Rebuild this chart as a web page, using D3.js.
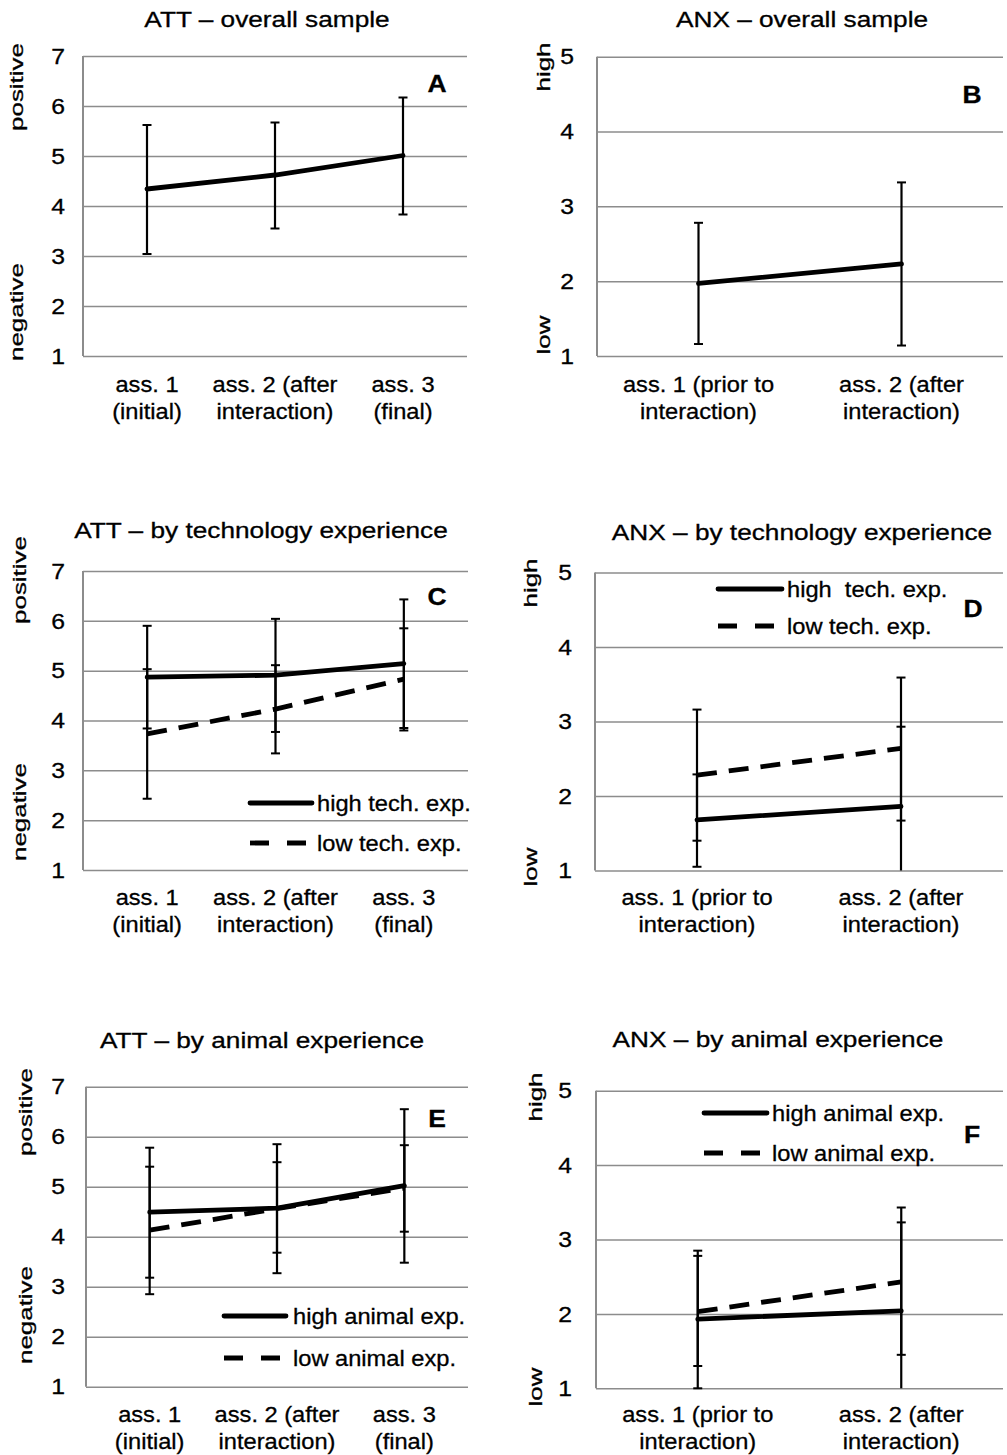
<!DOCTYPE html>
<html lang="en">
<head>
<meta charset="UTF-8">
<title>ATT / ANX by assessment</title>
<style>
  body { margin: 0; background: #fff; }
  svg { display: block; font-family: 'Liberation Sans', Arial, sans-serif; fill: #000; }
  text { stroke: #000; stroke-width: 0.3px; }
  .grid line { stroke: #8c8c8c; stroke-width: 1.5px; }
  .grid .domain { display: none; }
</style>
</head>
<body>
<svg id="chart" width="1007" height="1455"></svg>
<script src="https://d3js.org/d3.v7.min.js"></script>
<script>
// categories and ticks
const attCats = [["ass. 1", "(initial)"], ["ass. 2 (after", "interaction)"], ["ass. 3", "(final)"]];
const anxCats = [["ass. 1 (prior to", "interaction)"], ["ass. 2 (after", "interaction)"]];
const attTicks = [1, 2, 3, 4, 5, 6, 7];
const anxTicks = [1, 2, 3, 4, 5];

// A - ATT overall
const attAllMean = [4.34, 4.62, 5.01];
const attAllLo = [3.04, 3.55, 3.83];
const attAllHi = [5.62, 5.67, 6.17];
// B - ANX overall
const anxAllMean = [1.97, 2.23];
const anxAllLo = [1.16, 1.14];
const anxAllHi = [2.78, 3.32];
// C - ATT by technology experience
const attTechHighMean = [4.87, 4.91, 5.14];
const attTechHighLo = [3.84, 3.77, 3.85];
const attTechHighHi = [5.90, 6.04, 6.43];
const attTechLowMean = [3.73, 4.23, 4.83];
const attTechLowLo = [2.43, 3.34, 3.80];
const attTechLowHi = [5.03, 5.11, 5.85];
// D - ANX by technology experience
const anxTechHighMean = [1.68, 1.86];
const anxTechHighLo = [1.05, 0.79];
const anxTechHighHi = [2.29, 2.93];
const anxTechLowMean = [2.28, 2.64];
const anxTechLowLo = [1.40, 1.67];
const anxTechLowHi = [3.16, 3.59];
// E - ATT by animal experience
const attAnimHighMean = [4.49, 4.57, 5.02];
const attAnimHighLo = [3.18, 3.27, 3.48];
const attAnimHighHi = [5.78, 5.85, 6.55];
const attAnimLowMean = [4.13, 4.56, 4.97];
const attAnimLowLo = [2.85, 3.68, 4.10];
const attAnimLowHi = [5.40, 5.49, 5.83];
// F - ANX by animal experience
const anxAnimHighMean = [1.93, 2.04];
const anxAnimHighLo = [1.00, 0.85];
const anxAnimHighHi = [2.85, 3.23];
const anxAnimLowMean = [2.03, 2.43];
const anxAnimLowLo = [1.30, 1.45];
const anxAnimLowHi = [2.78, 3.43];

const svg = d3.select("#chart");

// text is a bit wider than the plain font in the original, so stretch it horizontally
function addText(g, x, y, str, o) {
    o = o || {};
    const rot = o.rotate ? " rotate(-90)" : "";
    return g.append("text")
        .attr("transform", `translate(${x},${y})${rot} scale(${o.sx || 1.1},1)`)
        .attr("text-anchor", o.anchor || "middle")
        .attr("dy", o.dy || 0)
        .style("font-size", (o.size || 21.5) + "px")
        .style("font-weight", o.bold ? "bold" : null)
        .style("white-space", "pre")
        .text(str);
}

function drawPanel(p) {
    const g = svg.append("g");
    const x = d3.scalePoint().domain(p.cats.map((c, i) => i)).range([p.left, p.right]).padding(0.5);
    const y = d3.scaleLinear().domain(d3.extent(p.ticks)).range([p.bottom, p.top]);
    const yMin = y.domain()[0];

    // gridlines + left axis
    g.append("g").attr("class", "grid")
        .attr("transform", `translate(${p.left},0)`)
        .call(d3.axisLeft(y).tickValues(p.ticks).tickSize(-(p.right - p.left)).tickFormat(""));
    g.append("line")
        .attr("x1", p.left).attr("x2", p.left)
        .attr("y1", y(y.domain()[1])).attr("y2", y(yMin))
        .attr("stroke", "#8c8c8c").attr("stroke-width", 2);

    p.ticks.forEach(t => addText(g, p.tickRight, y(t), t, { anchor: "end", dy: "0.36em", sx: 1.15 }));
    addText(g, p.nameX, p.nameTopY, p.names[0], { rotate: true, dy: "0.35em", size: 18.5, sx: 1.4 });
    addText(g, p.nameX, p.nameBotY, p.names[1], { rotate: true, dy: "0.35em", size: 18.5, sx: 1.4 });

    p.cats.forEach((c, i) => {
        addText(g, x(i), p.labelY, c[0]);
        addText(g, x(i), p.labelY + 26.5, c[1]);
    });

    addText(g, p.titleX, p.titleY, p.title, { sx: 1.22 });
    addText(g, p.letterX, p.letterY, p.letter, { bold: true, size: 23, sx: 1.15 });

    const line = d3.line().x((d, i) => x(i)).y(d => y(d));
    p.series.forEach(s => {
        g.append("path")
            .attr("d", line(s.mean))
            .attr("fill", "none")
            .attr("stroke", "#000")
            .attr("stroke-width", 4.8)
            .attr("stroke-linecap", s.dash ? "butt" : "round")
            .attr("stroke-dasharray", s.dash ? "20,12" : null);
    });

    // error bars
    p.series.forEach(s => {
        s.mean.forEach((m, i) => {
            const lo = Math.max(s.lo[i], yMin);
            const cx = x(i);
            g.append("line").attr("x1", cx).attr("x2", cx)
                .attr("y1", y(s.hi[i])).attr("y2", y(lo))
                .attr("stroke", "#000").attr("stroke-width", 2.2);
            const caps = [s.hi[i]];
            if (s.lo[i] >= yMin) caps.push(s.lo[i]);
            caps.forEach(v => g.append("line")
                .attr("x1", cx - 4.5).attr("x2", cx + 4.5)
                .attr("y1", y(v)).attr("y2", y(v))
                .attr("stroke", "#000").attr("stroke-width", 2));
        });
    });

    // legend
    if (p.legend) {
        const L = p.legend;
        [L.y1, L.y2].forEach((ly, k) => {
            g.append("line")
                .attr("x1", L.x0).attr("x2", L.x1).attr("y1", ly).attr("y2", ly)
                .attr("stroke", "#000").attr("stroke-width", 4.8)
                .attr("stroke-linecap", k === 0 ? "round" : "butt")
                .attr("stroke-dasharray", k === 0 ? null : "19,18");
            addText(g, L.tx, ly, L.labels[k], { anchor: "start", dy: "0.35em" });
        });
    }
}

const attNames = ["positive", "negative"];
const anxNames = ["high", "low"];

drawPanel({
    title: "ATT \u2013 overall sample", titleX: 267, titleY: 27, letter: "A", letterX: 437, letterY: 92,
    cats: attCats, ticks: attTicks, names: attNames,
    left: 83, right: 467, top: 56, bottom: 356, tickRight: 65, nameX: 17, nameTopY: 87, nameBotY: 312, labelY: 392,
    series: [{ mean: attAllMean, lo: attAllLo, hi: attAllHi }]
});
drawPanel({
    title: "ANX \u2013 overall sample", titleX: 802, titleY: 27, letter: "B", letterX: 972, letterY: 103,
    cats: anxCats, ticks: anxTicks, names: anxNames,
    left: 597, right: 1003, top: 56.7, bottom: 356, tickRight: 574, nameX: 544, nameTopY: 67, nameBotY: 335, labelY: 392,
    series: [{ mean: anxAllMean, lo: anxAllLo, hi: anxAllHi }]
});
drawPanel({
    title: "ATT \u2013 by technology experience", titleX: 261, titleY: 538, letter: "C", letterX: 437, letterY: 605,
    cats: attCats, ticks: attTicks, names: attNames,
    left: 83, right: 468, top: 571, bottom: 870, tickRight: 65, nameX: 20, nameTopY: 580, nameBotY: 812, labelY: 905,
    series: [
        { mean: attTechLowMean, lo: attTechLowLo, hi: attTechLowHi, dash: true },
        { mean: attTechHighMean, lo: attTechHighLo, hi: attTechHighHi }
    ],
    legend: { x0: 250, x1: 312, tx: 317, y1: 803, y2: 843, labels: ["high tech. exp.", "low tech. exp."] }
});
drawPanel({
    title: "ANX \u2013 by technology experience", titleX: 802, titleY: 540, letter: "D", letterX: 973, letterY: 617,
    cats: anxCats, ticks: anxTicks, names: anxNames,
    left: 595, right: 1003, top: 572.5, bottom: 870.5, tickRight: 572, nameX: 531, nameTopY: 583, nameBotY: 867, labelY: 905,
    series: [
        { mean: anxTechLowMean, lo: anxTechLowLo, hi: anxTechLowHi, dash: true },
        { mean: anxTechHighMean, lo: anxTechHighLo, hi: anxTechHighHi }
    ],
    legend: { x0: 718, x1: 782, tx: 787, y1: 589, y2: 626, labels: ["high  tech. exp.", "low tech. exp."] }
});
drawPanel({
    title: "ATT \u2013 by animal experience", titleX: 262, titleY: 1048, letter: "E", letterX: 437, letterY: 1127,
    cats: attCats, ticks: attTicks, names: attNames,
    left: 86, right: 468, top: 1086.7, bottom: 1386.7, tickRight: 65, nameX: 26, nameTopY: 1112, nameBotY: 1315, labelY: 1422,
    series: [
        { mean: attAnimLowMean, lo: attAnimLowLo, hi: attAnimLowHi, dash: true },
        { mean: attAnimHighMean, lo: attAnimHighLo, hi: attAnimHighHi }
    ],
    legend: { x0: 224, x1: 286, tx: 293, y1: 1316, y2: 1358, labels: ["high animal exp.", "low animal exp."] }
});
drawPanel({
    title: "ANX \u2013 by animal experience", titleX: 778, titleY: 1047, letter: "F", letterX: 972, letterY: 1143,
    cats: anxCats, ticks: anxTicks, names: anxNames,
    left: 596, right: 1003, top: 1090.7, bottom: 1388.3, tickRight: 572, nameX: 536, nameTopY: 1097, nameBotY: 1387, labelY: 1422,
    series: [
        { mean: anxAnimLowMean, lo: anxAnimLowLo, hi: anxAnimLowHi, dash: true },
        { mean: anxAnimHighMean, lo: anxAnimHighLo, hi: anxAnimHighHi }
    ],
    legend: { x0: 704, x1: 767, tx: 772, y1: 1113, y2: 1153, labels: ["high animal exp.", "low animal exp."] }
});
</script>
</body>
</html>
